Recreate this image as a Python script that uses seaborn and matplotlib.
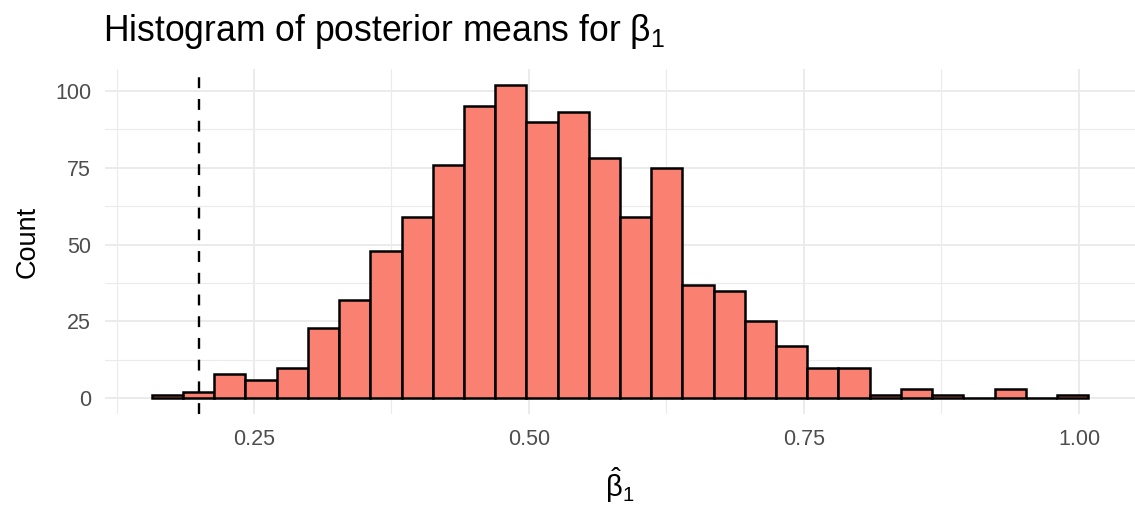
import numpy as np
import pandas as pd
import matplotlib
matplotlib.use("Agg")
import matplotlib.pyplot as plt
import seaborn as sns
from matplotlib.ticker import FixedLocator

# ---- data ----
counts = [1, 2, 8, 6, 10, 23, 32, 48, 59, 76, 95, 102, 90, 93, 78,
          59, 75, 37, 35, 25, 17, 10, 10, 1, 3, 1, 0, 3, 0, 1]
bin_start = 0.1571
bin_end = 1.0084
true_value = 0.20
x_major = [0.25, 0.50, 0.75, 1.00]
x_major_labels = ["0.25", "0.50", "0.75", "1.00"]
y_major = [0, 25, 50, 75, 100]

edges = np.linspace(bin_start, bin_end, len(counts) + 1)
centers = (edges[:-1] + edges[1:]) / 2
df = pd.DataFrame({"beta": centers, "n": counts})

sns.set_theme(style="white")
plt.rcParams["font.family"] = ["Liberation Sans", "DejaVu Sans"]
plt.rcParams["mathtext.fontset"] = "custom"
plt.rcParams["mathtext.rm"] = "Liberation Sans"
plt.rcParams["mathtext.it"] = "Liberation Sans"
plt.rcParams["mathtext.bf"] = "Liberation Sans:bold"
plt.rcParams["text.color"] = "black"
plt.rcParams["axes.labelcolor"] = "black"

fig = plt.figure(figsize=(11.35, 5.12), dpi=100)
ax = fig.add_axes([105 / 1135, 1 - 414 / 512, 1 - 105 / 1135, (414 - 69) / 512])

sns.histplot(data=df, x="beta", weights="n", bins=len(counts),
             binrange=(bin_start, bin_end), ax=ax,
             color="#FA8072", alpha=1, edgecolor="black", linewidth=1.8)

ax.axvline(true_value, color="black", linewidth=1.7, linestyle=(0, (4.6, 4.6)))

span = bin_end - bin_start
ax.set_xlim(bin_start - 0.05 * span, bin_end + 0.05 * span)
ymax = max(counts)
ax.set_ylim(-0.05 * ymax, ymax * 1.05)

ax.xaxis.set_major_locator(FixedLocator(x_major))
ax.set_xticklabels(x_major_labels)
ax.xaxis.set_minor_locator(FixedLocator([0.125, 0.375, 0.625, 0.875]))
ax.yaxis.set_major_locator(FixedLocator(y_major))
ax.yaxis.set_minor_locator(FixedLocator([12.5, 37.5, 62.5, 87.5]))

ax.grid(which="major", color="#EBEBEB", linewidth=1.4)
ax.grid(which="minor", color="#EBEBEB", linewidth=0.8)
ax.set_axisbelow(True)
for s in ax.spines.values():
    s.set_visible(False)
ax.tick_params(which="both", length=0)
ax.tick_params(axis="x", labelsize=15.5, labelcolor="#4D4D4D", pad=11)
ax.tick_params(axis="y", labelsize=15.5, labelcolor="#4D4D4D", pad=10)

ax.set_ylabel("Count", fontsize=19.5, labelpad=10)
ax.set_xlabel(r"$\hat{\beta}_1$", fontsize=21, labelpad=11)
ax.set_title(r"Histogram of posterior means for $\beta_1$", fontsize=25.6,
             loc="left", pad=20, x=-0.002)

fig.savefig("out.png", dpi=100)
